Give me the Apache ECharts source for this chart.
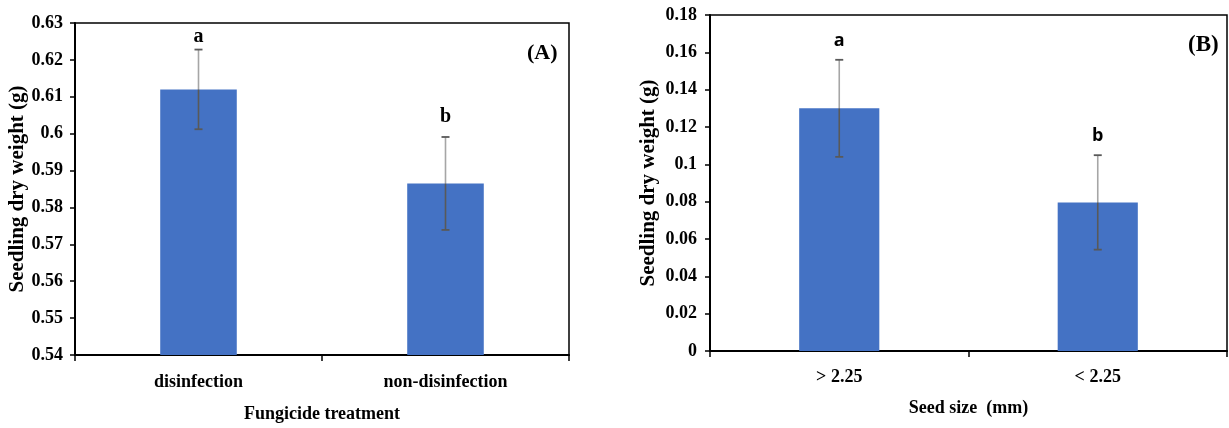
<!DOCTYPE html>
<html lang="en">
<head>
    <meta charset="UTF-8">
    <title>Seedling dry weight</title>
    <style>
        html, body { margin: 0; padding: 0; background: #fff; }
    </style>
</head>
<body>
<div id="main" style="width: 1229px;height:428px;"></div>
<script type="text/javascript" src="https://cdn.jsdelivr.net/npm/echarts@6/dist/echarts.min.js"></script>
<script type="text/javascript">

    // data, panel A (fungicide)
    var categoriesA = ['disinfection', 'non-disinfection'];
    var meansA = [0.612, 0.5865];
    var errorsA = [0.0108, 0.0126];
    var lettersA = ['a', 'b'];

    // data, panel B (seed size)
    var categoriesB = ['> 2.25', '< 2.25'];
    var meansB = [0.13, 0.0796];
    var errorsB = [0.026, 0.0253];
    var lettersB = ['a', 'b'];

    var serif = '"Liberation Serif", "Times New Roman", serif';
    var sans = '"Open Sans", "Liberation Sans", sans-serif';
    var barColor = '#4472C4';

    var myChart = echarts.init(document.getElementById('main'));

    function errData(means, errs) {
        return means.map(function (m, i) { return [i, m, m + errs[i], m - errs[i]]; });
    }

    // error bar + significance letter
    function makeRender(letters, font, gaps) {
        return function (params, api) {
            var i = api.value(0);
            var mid = api.coord([i, api.value(1)]);
            var top = api.coord([i, api.value(2)]);
            var bot = api.coord([i, api.value(3)]);
            var x = top[0], cap = 4;
            return {
                type: 'group',
                children: [
                    { type: 'line', shape: { x1: x, y1: top[1], x2: x, y2: mid[1] }, style: { stroke: '#a6a6a6', lineWidth: 1.6 } },
                    { type: 'line', shape: { x1: x, y1: mid[1], x2: x, y2: bot[1] }, style: { stroke: '#595959', lineWidth: 1.6 } },
                    { type: 'line', shape: { x1: x - cap, y1: top[1], x2: x + cap, y2: top[1] }, style: { stroke: '#595959', lineWidth: 1.8 } },
                    { type: 'line', shape: { x1: x - cap, y1: bot[1], x2: x + cap, y2: bot[1] }, style: { stroke: '#595959', lineWidth: 1.8 } },
                    { type: 'text', style: { text: letters[i], x: x, y: top[1] - gaps[i], align: 'center', verticalAlign: 'bottom', font: font, fill: '#000' } }
                ]
            };
        };
    }

    var tickFont = { color: '#000', fontFamily: serif, fontWeight: 'bold', fontSize: 18 };
    var catFont = { color: '#000', fontFamily: serif, fontWeight: 'bold', fontSize: 18 };

    function xAxisCfg(idx, cats, name, margin, gap) {
        return {
            type: 'category', gridIndex: idx, data: cats,
            name: name, nameLocation: 'middle', nameGap: gap,
            nameTextStyle: { color: '#000', fontFamily: serif, fontWeight: 'bold', fontSize: 18 },
            axisLine: { lineStyle: { color: '#000', width: 2 } },
            axisTick: { show: true, length: 6, lineStyle: { color: '#000', width: 1.5 } },
            axisLabel: Object.assign({ margin: margin }, catFont)
        };
    }

    function yAxisCfg(idx, min, max, interval, gap, margin) {
        return {
            type: 'value', gridIndex: idx, min: min, max: max, interval: interval,
            name: 'Seedling dry weight (g)', nameLocation: 'middle', nameGap: gap,
            nameTextStyle: { color: '#000', fontFamily: serif, fontWeight: 'bold', fontSize: 21 },
            axisLine: { show: true, lineStyle: { color: '#000', width: 2 } },
            axisTick: { show: true, length: 5, lineStyle: { color: '#000', width: 1.5 } },
            splitLine: { show: false },
            axisLabel: Object.assign({ margin: margin }, tickFont)
        };
    }

    myChart.setOption({
        animation: false,
        grid: [
            { left: 75, top: 23, width: 494, height: 333, show: true, borderColor: '#000', borderWidth: 1.5, backgroundColor: 'transparent' },
            { left: 710, top: 15, width: 517, height: 336, show: true, borderColor: '#000', borderWidth: 1.5, backgroundColor: 'transparent' }
        ],
        xAxis: [
            xAxisCfg(0, categoriesA, 'Fungicide treatment', 18, 50),
            xAxisCfg(1, categoriesB, 'Seed size  (mm)', 17, 48)
        ],
        yAxis: [
            yAxisCfg(0, 0.54, 0.63, 0.01, 46, 12),
            yAxisCfg(1, 0, 0.18, 0.02, 51, 13)
        ],
        graphic: [
            { type: 'text', left: 527, top: 42, style: { text: '(A)', font: 'bold 22px ' + serif, fill: '#000' } },
            { type: 'text', left: 1188, top: 34, style: { text: '(B)', font: 'bold 23px ' + serif, fill: '#000' } }
        ],
        series: [
            {
                type: 'bar', xAxisIndex: 0, yAxisIndex: 0, data: meansA, barWidth: '31%',
                itemStyle: { color: barColor }
            },
            {
                type: 'custom', xAxisIndex: 0, yAxisIndex: 0, z: 5,
                renderItem: makeRender(lettersA, 'bold 20px ' + serif, [3, 10]),
                data: errData(meansA, errorsA)
            },
            {
                type: 'bar', xAxisIndex: 1, yAxisIndex: 1, data: meansB, barWidth: '31%',
                itemStyle: { color: barColor }
            },
            {
                type: 'custom', xAxisIndex: 1, yAxisIndex: 1, z: 5,
                renderItem: makeRender(lettersB, 'bold 18px ' + sans, [10, 10]),
                data: errData(meansB, errorsB)
            }
        ]
    });
</script>
</body>
</html>
